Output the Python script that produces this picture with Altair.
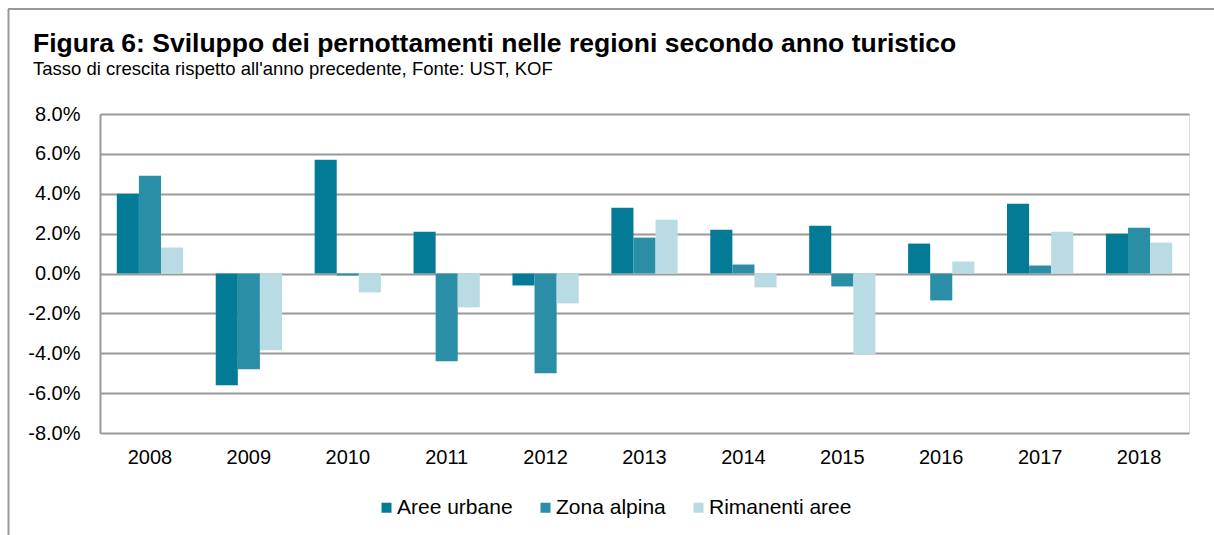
import altair as alt
import pandas as pd

years = ["2008", "2009", "2010", "2011", "2012", "2013", "2014", "2015", "2016", "2017", "2018"]
series = ["Aree urbane", "Zona alpina", "Rimanenti aree"]
urbane = [4.0, -5.6, 5.7, 2.1, -0.6, 3.3, 2.2, 2.4, 1.5, 3.5, 2.0]
alpina = [4.9, -4.8, -0.1, -4.4, -5.0, 1.8, 0.45, -0.65, -1.35, 0.4, 2.3]
rimanenti = [1.3, -3.85, -0.95, -1.7, -1.5, 2.7, -0.7, -4.05, 0.6, 2.1, 1.55]
colors = ["#037B96", "#2A8FA6", "#B9DBE3"]
y_ticks = [-0.08, -0.06, -0.04, -0.02, 0.0, 0.02, 0.04, 0.06, 0.08]

rows = []
for name, vals in zip(series, [urbane, alpina, rimanenti]):
    for yr, v in zip(years, vals):
        rows.append({"anno": yr, "serie": name, "valore": v / 100})
df = pd.DataFrame(rows)

W, H = 1089, 319
FONT = "Liberation Sans"

bars = alt.Chart(df).mark_bar().encode(
    x=alt.X("anno:N", sort=years, title=None,
            scale=alt.Scale(paddingInner=0.33, paddingOuter=0.17),
            axis=alt.Axis(labelAngle=0, labelFontSize=20, labelFont=FONT, labelColor="#000000",
                          labelPadding=14, ticks=False, domain=False)),
    xOffset=alt.XOffset("serie:N", sort=series, scale=alt.Scale(paddingInner=0, paddingOuter=0)),
    y=alt.Y("valore:Q", title=None,
            scale=alt.Scale(domain=[-0.08, 0.08], nice=False),
            axis=alt.Axis(values=y_ticks, format=".1%",
                          labelExpr="replace(datum.label, '\u2212', '-')",
                          labelFontSize=20, labelFont=FONT,
                          labelColor="#000000", labelPadding=20, ticks=False,
                          domain=True, domainColor="#999999", domainWidth=2,
                          grid=True, gridColor="#999999", gridWidth=2)),
    color=alt.Color("serie:N", sort=series,
                    scale=alt.Scale(domain=series, range=colors),
                    legend=alt.Legend(title=None, orient="none", direction="horizontal",
                                      legendX=276, legendY=383, symbolType="square",
                                      symbolSize=100, symbolStrokeWidth=0, labelFontSize=21,
                                      labelFont=FONT, labelColor="#000000", labelOffset=0,
                                      columnPadding=22, labelLimit=400, padding=0)),
)

frame_df = pd.DataFrame({"k": [0]})
left_frame = alt.Chart(frame_df).mark_rule(color="#999999", strokeWidth=2).encode(
    x=alt.value(-91.5), y=alt.value(-105), y2=alt.value(H + 200))
top_frame = alt.Chart(frame_df).mark_rule(color="#999999", strokeWidth=2).encode(
    x=alt.value(-92), x2=alt.value(W + 200), y=alt.value(-105))

chart = alt.layer(bars, left_frame, top_frame).properties(
    width=W, height=H,
    autosize=alt.AutoSizeParams(type="none"),
    padding={"left": 100, "top": 114, "right": 25, "bottom": 102},
    title=alt.TitleParams(
        text="Figura 6: Sviluppo dei pernottamenti nelle regioni secondo anno turistico",
        subtitle="Tasso di crescita rispetto all'anno precedente, Fonte: UST, KOF",
        anchor="start", frame="group", dx=-67, offset=-70,
        font=FONT, fontSize=26.5, fontWeight="bold", color="#000000",
        subtitleFont=FONT, subtitleFontSize=18.5, subtitleColor="#000000", subtitlePadding=2),
).configure_view(stroke=None).configure(background="white")

chart.save("out.html", embed_options={"renderer": "svg", "actions": False})
